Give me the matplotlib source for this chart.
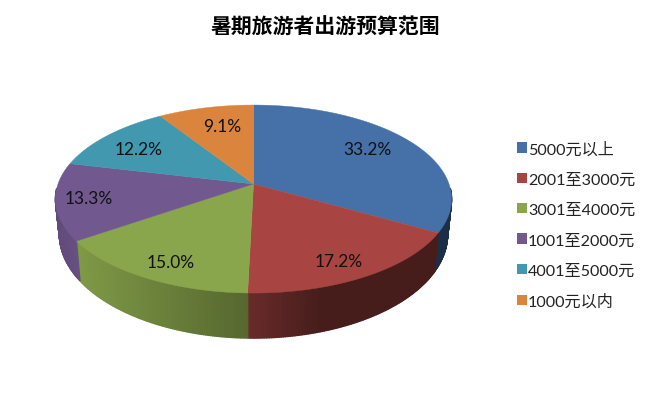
import numpy as np
import matplotlib
matplotlib.use("Agg")
import matplotlib.pyplot as plt
from matplotlib.patches import Patch

plt.rcParams['font.family'] = ['Lato', 'Noto Sans CJK SC', 'DejaVu Sans']

# Data
title = "暑期旅游者出游预算范围"
categories = ["5000元以上", "2001至3000元", "3001至4000元", "1001至2000元", "4001至5000元", "1000元以内"]
shares = [33.2, 17.2, 15.0, 13.3, 12.2, 9.1]
colors = ["#4571a8", "#a84543", "#8aa64c", "#71588f", "#4198af", "#db843d"]

# where Excel happened to put the percent labels
label_x = [367, 339, 171, 89, 139, 222]
label_y = [150, 262, 263, 199, 150, 127]

# Perspective of the pie disc, in pixels
cx, cy = 253.5, 185
a, b, k = 195.5, 91.6, 0.16


def top_edge(theta):
    s = 1 / (1 + k * np.cos(theta))
    return a * np.sin(theta) * s, b * np.cos(theta) * s


def to_px(x, y):
    return cx + x, cy - y


def bottom_edge(theta):
    x, y = top_edge(theta)
    return 0.98 * x, 1.103 * y - 33.8


def shade(x):
    # side wall gets darker towards the right
    return np.interp(x, [56, 80, 249, 320, 453], [0.85, 0.92, 0.62, 0.42, 0.42])


fig = plt.figure(figsize=(6.5, 4.1), dpi=100)
ax = fig.add_axes([0, 0, 1, 1])
ax.set_xlim(0, 650)
ax.set_ylim(410, 0)
ax.axis("off")

edges = np.cumsum([0] + shares) / 100 * 2 * np.pi

# side walls, drawn as thin strips so the shading looks like a gradient
for i, col in enumerate(colors):
    ts = np.linspace(edges[i], edges[i + 1], int(shares[i] * 6) + 2)
    rgb = np.array(matplotlib.colors.to_rgb(col))
    for t0, t1 in zip(ts[:-1], ts[1:]):
        # back half is hidden by the top face, skip it
        if np.cos((t0 + t1) / 2) > -0.05:
            continue
        xt, yt = top_edge(np.array([t0, t1]))
        xb, yb = bottom_edge(np.array([t1, t0]))
        px, py = to_px(np.r_[xt, xb], np.r_[yt, yb])
        f = shade(px.mean())
        ax.fill(px, py, color=rgb * f, lw=1.0)

# top face
for i, col in enumerate(colors):
    ts = np.linspace(edges[i], edges[i + 1], 120)
    x, y = top_edge(ts)
    px, py = to_px(np.r_[0, x], np.r_[0, y])
    ax.fill(px, py, color=col, lw=0.3)

for i, s in enumerate(shares):
    ax.text(label_x[i], label_y[i], f"{s:.1f}%", fontsize=12.5, color="#111111",
            ha="center", va="center")

ax.text(325, 27, title, fontsize=15, fontweight="bold", color="black",
        family=["Noto Sans CJK SC", "DejaVu Sans"], ha="center", va="center")

handles = [Patch(facecolor=c, label=n) for c, n in zip(colors, categories)]
ax.legend(handles=handles, loc="center left", bbox_to_anchor=(517, 226),
          bbox_transform=ax.transData, frameon=False, fontsize=11.6,
          handlelength=0.6, handleheight=0.6, handletextpad=0.08,
          labelspacing=1.0, labelcolor="#222222", borderpad=0, borderaxespad=0)

fig.savefig("out.png", dpi=100, facecolor="white")
